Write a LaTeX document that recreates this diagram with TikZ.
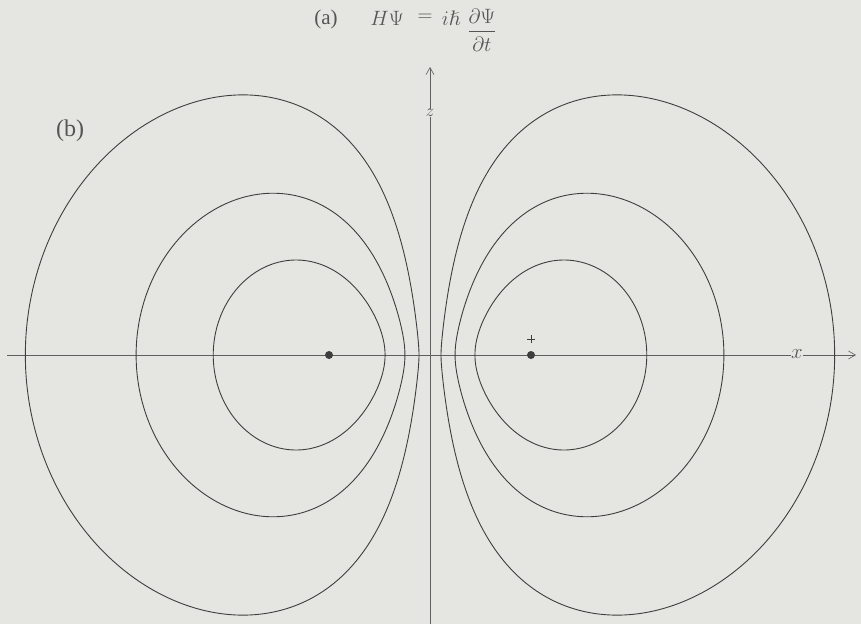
\documentclass[tikz,border=0pt]{standalone}
\usepackage{amssymb}
\usepackage{fontspec}
\setmainfont{Liberation Serif}
\usetikzlibrary{arrows.meta}
\definecolor{bg}{RGB}{229,229,225}
\definecolor{ink}{RGB}{62,62,62}
\definecolor{axisink}{RGB}{95,95,95}
\definecolor{textink}{RGB}{85,85,85}
\tikzset{
  declare function={
    px(\t,\a,\b)=\a+(\b-\a)*(1-cos(\t))/2;
    pz(\t,\a,\b,\c)=sqrt(abs((2*ln(px(\t,\a,\b)/\c))^2-(px(\t,\a,\b))^2));
  },
  cont/.style={draw=ink, line width=0.9pt, line join=round},
  axisline/.style={draw=axisink, line width=0.6pt, -{Straight Barb[length=7pt,width=8pt]}},
  lab/.style={text=textink, font=\fontsize{21}{23}\selectfont, inner sep=0.5pt},
  dotmark/.style={circle, fill=ink, minimum size=8pt, inner sep=0pt},
}
\newcommand\orblobe[4]{%
  \draw[cont] plot[domain=0:180,samples=151,variable=\t]
      ({430+(#1)*54.6*px(\t,#2,#3)},{355-54.6*pz(\t,#2,#3,#4)})
    -- plot[domain=180:0,samples=151,variable=\t]
      ({430+(#1)*54.6*px(\t,#2,#3)},{355+54.6*pz(\t,#2,#3,#4)}) -- cycle;}
\begin{document}
\begin{tikzpicture}[x=1pt,y=-1pt]
  \path[fill=bg, use as bounding box] (0,0) rectangle (861,624);
  % axes
  \coordinate (xstart) at (7,355);
  \coordinate (xend) at (856,355);
  \coordinate (zbot) at (430,624);
  \coordinate (ztop) at (430,67);
  \draw[axisline] (xstart) -- (xend);
  \draw[axisline] (zbot) -- (ztop);
  % contours, left lobe
  \orblobe{-1}{0.823}{3.970}{0.54537}
  \orblobe{-1}{0.459}{5.383}{0.36487}
  \orblobe{-1}{0.2015}{7.4115}{0.182188}
  % contours, right lobe
  \orblobe{1}{0.823}{3.970}{0.54537}
  \orblobe{1}{0.459}{5.383}{0.36487}
  \orblobe{1}{0.2015}{7.4115}{0.182188}
  % maxima
  \node[dotmark] (ldot) at (329,355) {};
  \node[dotmark] (rdot) at (531,355) {};
  \coordinate (cross) at (531,339);
  \draw[draw=ink, line width=0.6pt] ([xshift=-4pt]cross) -- ([xshift=4pt]cross)
    ([yshift=-4pt]cross) -- ([yshift=4pt]cross);
  % axis labels
  \node[lab, fill=bg] (xlab) at (797,354) {$x$};
  \node[lab, fill=bg, font=\fontsize{17}{19}\selectfont] (zlab) at (430,113) {$z$};
  % panel labels
  \node[lab, font=\fontsize{24}{26}\selectfont] (blab) at (70,131) {(b)};
  \node[lab] (alab) at (326,19) {(a)};
  \node[lab] (eqH) at (387,18) {$H\Psi$};
  \node[lab] (eqeq) at (425,18) {$=$};
  \node[lab] (eqih) at (451,18) {$i\hslash$};
  \node[lab] (eqf) at (482,30) {$\displaystyle\frac{\partial\Psi}{\partial t}$};
\end{tikzpicture}
\end{document}
